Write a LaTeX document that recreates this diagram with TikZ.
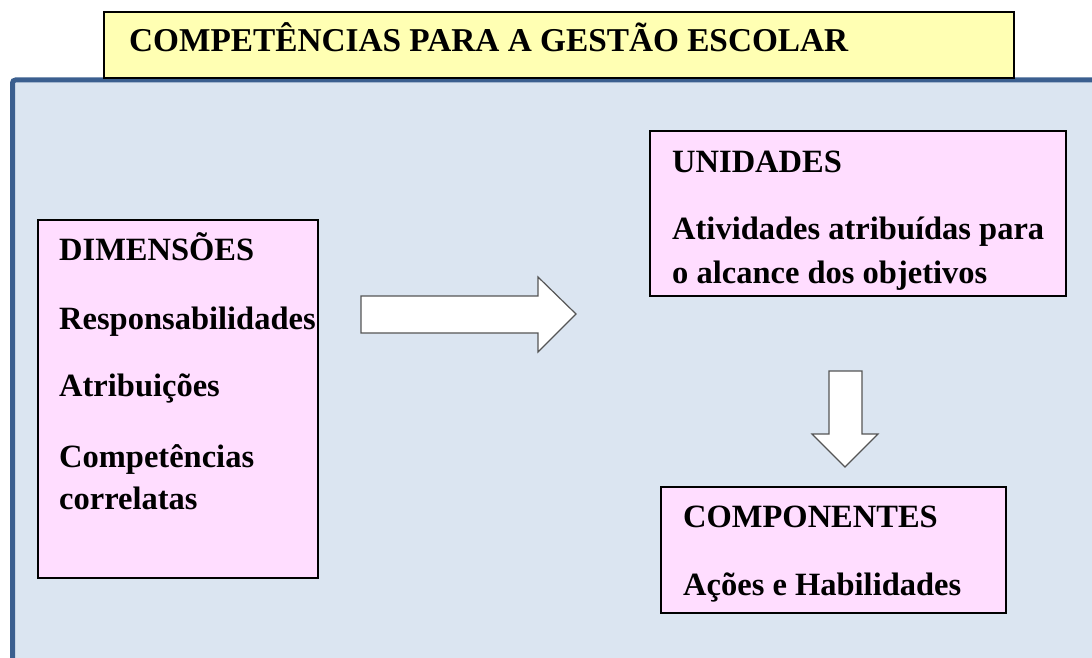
\documentclass[tikz,border=0pt]{standalone}
\usepackage{fontspec}
\setmainfont{Liberation Serif}
\usepackage{tikz}
\definecolor{panelblue}{HTML}{3B5F8F}
\definecolor{panelfill}{HTML}{DBE5F1}
\definecolor{titleyellow}{HTML}{FFFFB3}
\definecolor{boxpink}{HTML}{FFDDFF}
\definecolor{arrowgray}{HTML}{555555}
\tikzstyle{panel} = [draw=panelblue,line width=5,fill=panelfill,rounded corners=3]
\tikzstyle{titlebox} = [draw=black,line width=2,fill=titleyellow,inner sep=0]
\tikzstyle{pinkbox} = [draw=black,line width=2,fill=boxpink,inner sep=0]
\tikzstyle{blockarrow} = [draw=arrowgray,line width=1.2,fill=white]
\tikzstyle{boxtext} = [anchor=base west,inner sep=0,font=\fontsize{32.5}{42}\selectfont\bfseries]

\begin{document}
\begin{tikzpicture}[x=1pt,y=-1pt]
	\useasboundingbox (0,0) rectangle (1092,658);
	\def \dimx {59}
	\def \unix {672}
	\def \compx {683}
	\begin{scope}
		% background panel
		\draw [panel] (12.5,80) rectangle (1130,700);
		
		\node (title) at (559,45) [titlebox,minimum width=910,minimum height=66] {};
		\node (dim) at (178,399) [pinkbox,minimum width=280,minimum height=358] {};
		\node (uni) at (858,213.5) [pinkbox,minimum width=416,minimum height=165] {};
		\node (comp) at (833.5,550) [pinkbox,minimum width=345,minimum height=126] {};
		
		\draw [blockarrow] (361,296) -- (538,296) -- (538,277) -- (576,314) -- (538,352) -- (538,333) -- (361,333) -- cycle;
		\draw [blockarrow] (829,371) -- (862,371) -- (862,434) -- (878,434) -- (845,467) -- (812,434) -- (829,434) -- cycle;
		
		\node (titletext) at (129,52) [boxtext,font=\fontsize{33.3}{42}\selectfont\bfseries] {COMPETÊNCIAS PARA A GESTÃO ESCOLAR};
		
		\node (dimhead) at (\dimx,260) [boxtext] {DIMENSÕES};
		\node (resp) at (\dimx,329) [boxtext] {Responsabilidades};
		\node (atrib) at (\dimx,396) [boxtext] {Atribuições};
		\node (compet) at (\dimx,467) [boxtext] {Competências};
		\node (correl) at (\dimx,509) [boxtext] {correlatas};
		
		\node (unihead) at (\unix,172) [boxtext] {UNIDADES};
		\node (ativ) at (\unix,239) [boxtext] {Atividades atribuídas para};
		\node (alcance) at (\unix,283) [boxtext] {o alcance dos objetivos};
		
		\node (comphead) at (\compx,527) [boxtext] {COMPONENTES};
		\node (acoes) at (\compx,595) [boxtext] {Ações e Habilidades};
	\end{scope}
\end{tikzpicture}
\end{document}
